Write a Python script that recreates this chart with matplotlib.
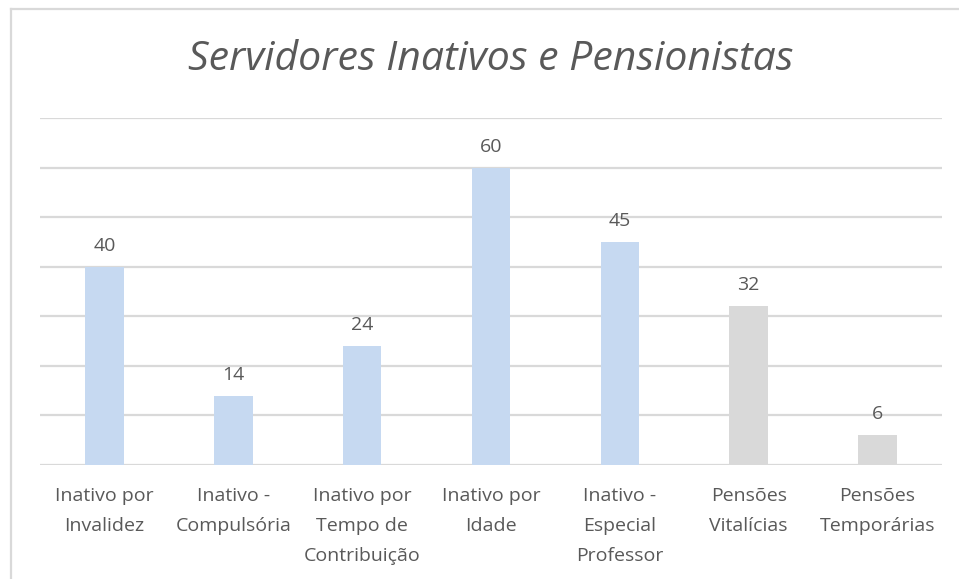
import matplotlib.pyplot as plt
from matplotlib.lines import Line2D

categories = ['Inativo por\nInvalidez', 'Inativo -\nCompulsória', 'Inativo por\nTempo de\nContribuição',
              'Inativo por\nIdade', 'Inativo -\nEspecial\nProfessor', 'Pensões\nVitalícias',
              'Pensões\nTemporárias']
values = [40, 14, 24, 60, 45, 32, 6]
bar_colors = ['#C6D9F1', '#C6D9F1', '#C6D9F1', '#C6D9F1', '#C6D9F1', '#D9D9D9', '#D9D9D9']

text_color = '#595959'
grid_color = '#D9D9D9'

fig = plt.figure(figsize=(9.59, 5.79), dpi=100)
ax = fig.add_axes([40 / 959, 1 - 465 / 579, 902 / 959, 347 / 579])

x = list(range(len(categories)))
bars = ax.bar(x, values, width=0.30, color=bar_colors, zorder=2)
for rect, v in zip(bars, values):
    ax.text(rect.get_x() + rect.get_width() / 2, v + 2.4, str(v), ha='center', va='bottom',
            fontsize=14, color=text_color, family='Open Sans')

ax.set_xlim(-0.5, len(categories) - 0.5)
ax.set_ylim(0, 70)
ax.set_yticks(range(0, 71, 10))
ax.yaxis.grid(True, color=grid_color, linewidth=1.6, zorder=0)
ax.tick_params(axis='y', left=False, labelleft=False)
ax.tick_params(axis='x', bottom=False, pad=12)
ax.set_xticks(x)
ax.set_xticklabels(categories, fontsize=14, color=text_color, family='Open Sans', linespacing=1.86)
for s in ax.spines.values():
    s.set_visible(False)

fig.text(491 / 959, 1 - 60 / 579, 'Servidores Inativos e Pensionistas', ha='center', va='center',
         fontsize=29.5, style='italic', color=text_color, family='Open Sans')

# chart border (left and top only visible)
bx, by = 10.5 / 959, 1 - 9 / 579
fig.add_artist(Line2D([bx, bx], [0, by], transform=fig.transFigure, color='#D9D9D9', linewidth=1.6))
fig.add_artist(Line2D([bx, 1.01], [by, by], transform=fig.transFigure, color='#D9D9D9', linewidth=1.6))

fig.savefig('out.png', dpi=100)
